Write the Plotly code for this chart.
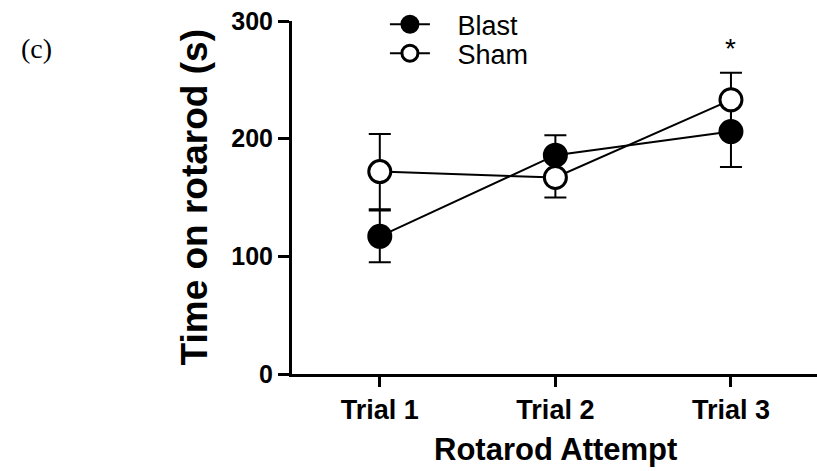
import plotly.graph_objects as go

# Rotarod performance (mean ± error) per trial
trials = ["Trial 1", "Trial 2", "Trial 3"]
blast_mean = [117, 186, 206]
blast_err = [22, 17, 30]
sham_mean = [172, 167, 233]
sham_err = [32, 17, 23]
y_ticks = [0, 100, 200, 300]

SANS = "Liberation Sans, Arial, sans-serif"
NBSP = "\u00a0"

fig = go.Figure()

fig.add_trace(go.Scatter(
    x=trials, y=blast_mean, name=NBSP * 3 + "Blast", mode="lines+markers",
    legend="legend",
    line=dict(color="black", width=2),
    marker=dict(symbol="circle", size=22, color="black",
                line=dict(color="black", width=3)),
    error_y=dict(type="data", array=blast_err, visible=True,
                 color="black", thickness=2, width=11),
))
fig.add_trace(go.Scatter(
    x=trials, y=sham_mean, name=NBSP * 3 + "Sham", mode="lines+markers",
    legend="legend2",
    line=dict(color="black", width=2),
    marker=dict(symbol="circle", size=22, color="white",
                line=dict(color="black", width=3)),
    error_y=dict(type="data", array=sham_err, visible=True,
                 color="black", thickness=2, width=11),
))

legend_style = dict(
    xanchor="left", yanchor="top",
    bgcolor="rgba(0,0,0,0)", borderwidth=0,
    font=dict(family=SANS, size=27, color="black"),
    itemwidth=40,
)

fig.update_layout(
    width=817, height=471,
    margin=dict(l=292, r=0, t=19, b=97),
    plot_bgcolor="white", paper_bgcolor="white",
    showlegend=True,
    legend=dict(x=0.177, y=1.059, **legend_style),
    legend2=dict(x=0.177, y=0.977, **legend_style),
    xaxis=dict(
        type="category", range=[-0.5, 2.49],
        showline=True, linecolor="black", linewidth=3,
        ticks="outside", ticklen=10, tickwidth=3, tickcolor="black",
        showgrid=False, zeroline=False,
        tickfont=dict(family=SANS, size=27, color="black", weight="bold"),
    ),
    yaxis=dict(
        range=[0, 300], tickvals=y_ticks,
        showline=True, linecolor="black", linewidth=3,
        ticks="outside", ticklen=11, tickwidth=3, tickcolor="black",
        showgrid=False, zeroline=False,
        tickfont=dict(family=SANS, size=25, color="black", weight="bold"),
    ),
    annotations=[
        dict(text="Rotarod Attempt", xref="paper", yref="paper",
             x=0.501, y=-0.214, showarrow=False,
             xanchor="center", yanchor="middle",
             font=dict(family=SANS, size=31, color="black", weight="bold")),
        dict(text="Time on rotarod (s)", xref="paper", yref="paper",
             x=-0.1848, y=0.5, showarrow=False, textangle=-90,
             xanchor="center", yanchor="middle",
             font=dict(family=SANS, size=37, color="black", weight="bold")),
        dict(text="(c)", xref="paper", yref="paper",
             x=-0.4876, y=0.921, showarrow=False,
             xanchor="center", yanchor="middle",
             font=dict(family="Liberation Serif, Times New Roman, serif",
                       size=28, color="black")),
        dict(text="*", xref="x", yref="y", x="Trial 3", y=277,
             showarrow=False, xanchor="center", yanchor="middle",
             font=dict(family=SANS, size=28, color="black")),
    ],
)

fig.write_html("out.html")
